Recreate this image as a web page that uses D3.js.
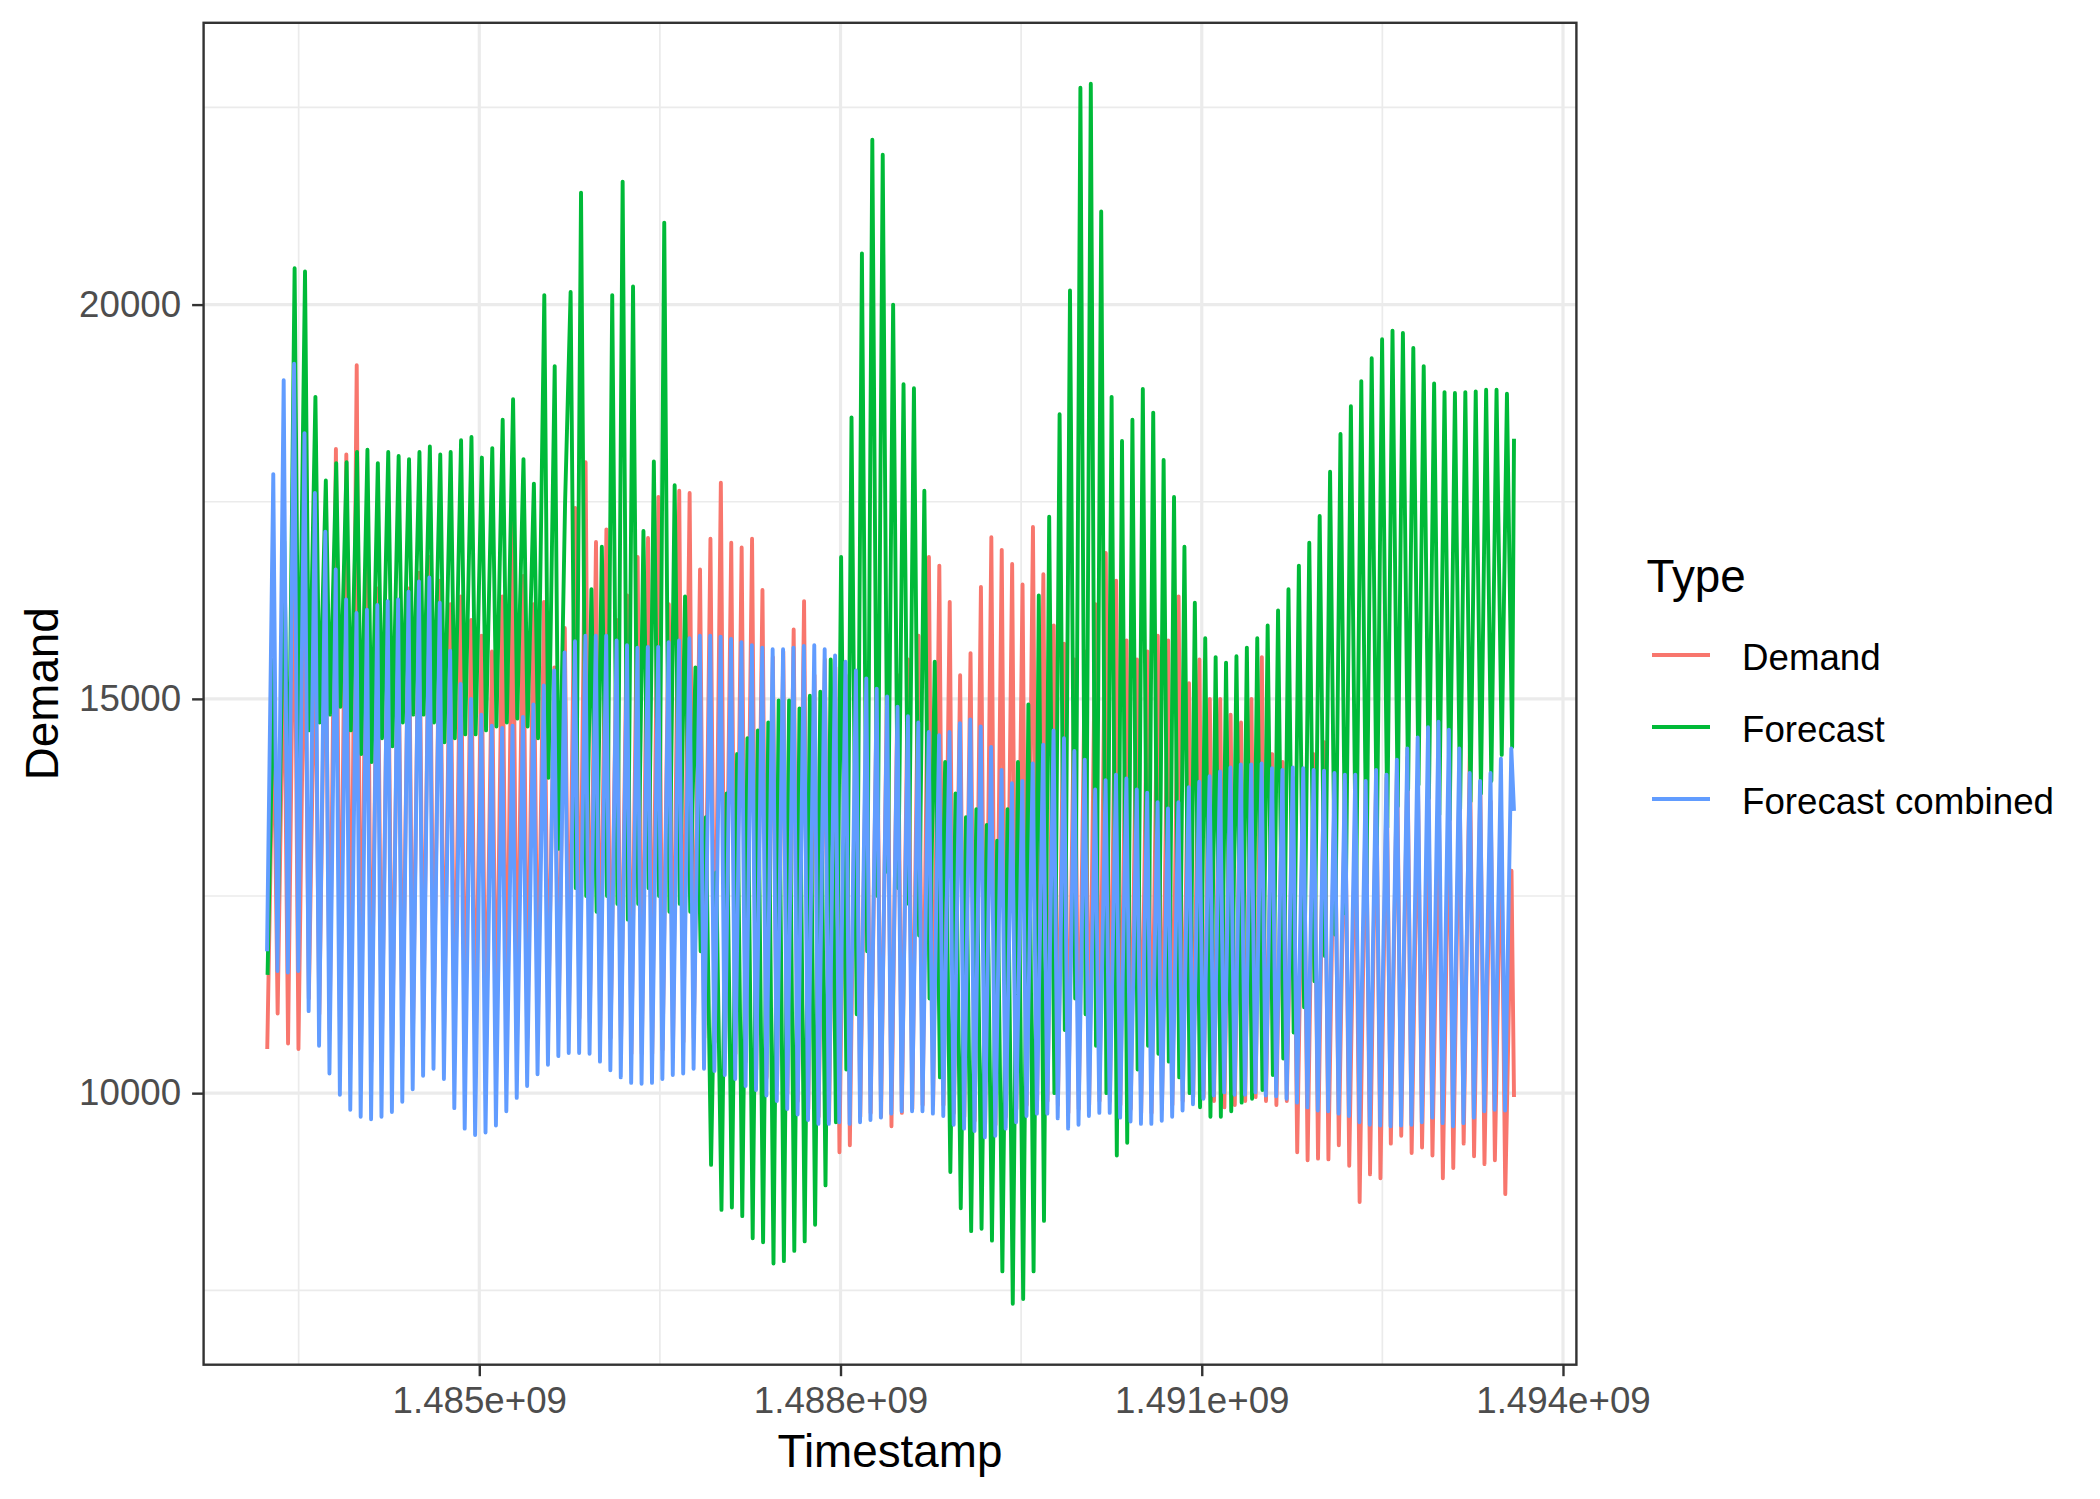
<!DOCTYPE html>
<html>
<head>
<meta charset="utf-8">
<script src="https://cdn.jsdelivr.net/npm/d3@7"></script>
<style>
  body { margin: 0; background: #fff; }
  text { font-family: "Liberation Sans", Arial, sans-serif; }
</style>
</head>
<body>
<div id="chart"></div>
<script>
// hourly series, 2017-01-01 .. 2017-04-30, read as daily low / high values
const startTime = 1483228800;
const endTime = 1493593200;
const daySeconds = 86400;

const demandLow = [
  10560, 11010, 10630, 10560, 11200, 11000, 10800, 10600, 10500, 10400,
  10400, 10450, 10500, 10600, 10700, 10800, 10900, 10800, 10500, 10300,
  10200, 10250, 10300, 10500, 10600, 10700, 10800, 10900, 10950, 11000,
  10950, 10900, 10800, 10700, 10600, 10500, 10500, 10500, 10550, 10600,
  10650, 10700, 10700, 10650, 10600, 10500, 10400, 10300, 10200, 10100,
  10000, 9900, 9800, 9700, 9650, 9250, 9340, 9700, 9750, 9700,
  9580, 9750, 9800, 9850, 9850, 9850, 9750, 9700, 9650, 9600,
  9600, 9700, 9800, 9850, 9900, 9900, 9850, 9750, 9800, 9850,
  9900, 9900, 9850, 9800, 9750, 9750, 9800, 9850, 9900, 9950,
  9950, 9900, 9820, 9850, 9900, 9950, 9900, 9850, 9900, 9250,
  9150, 9170, 9160, 9340, 9080, 8620, 8970, 8920, 9360, 9460,
  9240, 9310, 9210, 8920, 9050, 9360, 9200, 9100, 9150, 8720
];
const demandHigh = [
  15000, 16000, 17200, 16500, 16000, 16500, 18170, 18100, 19230, 17670,
  16400, 16200, 16000, 16400, 16600, 16800, 16500, 16200, 16300, 16000,
  15800, 15600, 16300, 17260, 16560, 16200, 16230, 15400, 15900, 17420,
  18000, 16990, 17150, 16000, 16310, 16800, 17040, 17560, 16200, 17640,
  17610, 16640, 17030, 17740, 16980, 16920, 17030, 16380, 15530, 15600,
  15880, 16240, 15300, 15500, 15400, 15300, 15200, 15000, 15200, 15400,
  15300, 15500, 15800, 16800, 16690, 16230, 15300, 15580, 16420, 17050,
  16890, 16710, 16450, 17180, 16580, 15930, 15700, 15500, 15600, 16200,
  16850, 16500, 15740, 15500, 15600, 15800, 15740, 16300, 15200, 15500,
  15000, 15000, 14800, 14700, 15000, 15530, 14300, 14200, 14000, 14100,
  14300, 14450, 14000, 13900, 13800, 13900, 14100, 14000, 14200, 14260,
  14000, 13900, 13800, 13900, 14100, 14420, 13900, 13700, 13470, 12820
];

const forecastLow = [
  11500, 12300, 13200, 14200, 14600, 14700, 14800, 14900, 14600, 14300,
  14200, 14500, 14400, 14700, 14800, 14800, 14700, 14450, 14500, 14550,
  14550, 14600, 14650, 14700, 14750, 14650, 14500, 14000, 13100, 12600,
  12500, 12300, 12500, 12400, 12200, 12400, 12600, 12500, 12300, 12400,
  12300, 11800, 9090, 8520, 8550, 8440, 8160, 8110, 7840, 7870,
  8000, 8120, 8330, 8830, 9630, 10300, 11000, 11800, 12500, 12800,
  12600, 12400, 12000, 11200, 10200, 9000, 8540, 8250, 8280, 8130,
  7740, 7330, 7390, 7740, 8380, 10000, 10800, 11200, 11000, 10600,
  10000, 9210, 9370, 10300, 10600, 10500, 10400, 10200, 10000, 9820,
  9700, 9700, 9770, 9880, 9930, 10040, 10230, 10440, 10770, 11090,
  11420, 11740, 12010, 12280, 12450, 12660, 13150, 13370, 13640, 13850,
  13910, 13740, 13530, 13470, 13600, 13700, 13800, 13960, 14290, 14390
];
const forecastHigh = [
  15500, 17000, 20460, 20420, 18830, 17770, 17990, 18000, 18130, 18160,
  17990, 18130, 18080, 18040, 18130, 18200, 18100, 18130, 18280, 18320,
  18060, 18180, 18540, 18800, 18040, 17730, 20120, 19220, 17500, 20160,
  21420, 16390, 16930, 20120, 21560, 20230, 17130, 18010, 21040, 17710,
  16300, 15400, 13500, 12800, 13800, 14300, 14500, 14600, 14700, 14980,
  14980, 14880, 15040, 15090, 15500, 16800, 18570, 20650, 22090, 21900,
  20000, 18990, 18940, 17640, 15470, 14200, 13800, 13500, 13600, 13400,
  13200, 13600, 14200, 14930, 16310, 17310, 18610, 20180, 22750, 22800,
  21180, 18830, 18270, 18540, 18930, 18630, 18030, 17560, 16930, 16220,
  15770, 15530, 15460, 15540, 15650, 15770, 15930, 16120, 16390, 16690,
  16980, 17320, 17880, 18360, 18710, 19030, 19320, 19560, 19670, 19640,
  19450, 19220, 19000, 18890, 18880, 18890, 18900, 18920, 18920, 18870
];

const combinedLow = [
  11800, 11550, 11530, 11550, 11040, 10600, 10250, 9980, 9790, 9700,
  9670, 9700, 9760, 9890, 10050, 10220, 10310, 10180, 9810, 9550,
  9470, 9500, 9590, 9770, 9940, 10090, 10240, 10360, 10470, 10510,
  10510, 10500, 10400, 10290, 10200, 10130, 10120, 10130, 10180, 10230,
  10250, 10310, 10310, 10280, 10230, 10180, 10090, 10040, 9970, 9900,
  9800, 9730, 9660, 9610, 9610, 9630, 9610, 9630, 9660, 9690,
  9740, 9770, 9770, 9770, 9740, 9710, 9600, 9550, 9520, 9440,
  9460, 9550, 9630, 9710, 9740, 9740, 9680, 9550, 9600, 9710,
  9750, 9750, 9690, 9640, 9610, 9610, 9650, 9700, 9780, 9860,
  9930, 9970, 10010, 9980, 9980, 10010, 9970, 9960, 9930, 9880,
  9820, 9780, 9770, 9740, 9710, 9630, 9600, 9590, 9580, 9590,
  9600, 9630, 9690, 9620, 9580, 9620, 9690, 9770, 9790, 9780
];
const combinedHigh = [
  17850, 19040, 19250, 18370, 17610, 17120, 16640, 16260, 16090, 16130,
  16190, 16240, 16260, 16360, 16490, 16540, 16220, 15610, 15190, 15000,
  14800, 14660, 14630, 14660, 14770, 14930, 15170, 15360, 15590, 15730,
  15800, 15800, 15800, 15740, 15680, 15650, 15660, 15660, 15720, 15740,
  15770, 15800, 15800, 15790, 15760, 15720, 15680, 15650, 15630, 15630,
  15650, 15670, 15680, 15630, 15550, 15470, 15360, 15260, 15130, 15030,
  14900, 14780, 14700, 14580, 14540, 14580, 14690, 14740, 14650, 14390,
  14100, 13930, 13960, 14180, 14420, 14600, 14500, 14340, 14230, 13850,
  13970, 14040, 13990, 13850, 13810, 13690, 13610, 13690, 13880, 13950,
  14020, 14080, 14130, 14170, 14170, 14180, 14120, 14100, 14130, 14120,
  14100, 14090, 14060, 14040, 14040, 13960, 14100, 14040, 14230, 14370,
  14510, 14640, 14710, 14610, 14370, 14060, 13960, 14060, 14240, 14370
];

// last hourly value of each series
const endValues = [9950, 18300, 13580];

const seriesNames = ["Demand", "Forecast", "Forecast combined"];
const seriesColors = ["#F8766D", "#00BA38", "#619CFF"];

const xTicks = [1.485e9, 1.488e9, 1.491e9, 1.494e9];
const xTickLabels = ["1.485e+09", "1.488e+09", "1.491e+09", "1.494e+09"];
const xMinorTicks = [1.4835e9, 1.4865e9, 1.4895e9, 1.4925e9];
const yTicks = [10000, 15000, 20000];
const yTickLabels = ["10000", "15000", "20000"];
const yMinorTicks = [7500, 12500, 17500, 22500];

// time of day (fraction) where the daily low / high falls
const demandPhase = d => ({ low: 0.12, high: 0.72 });
const combinedPhase = d => ({ low: 0.10, high: 0.70 });
const forecastPhase = d => d < 29 ? { low: 0.15, high: 0.75 } : { low: 0.78, high: 0.28 };

function dayPoints(lows, highs, phaseFor, endValue) {
    const pts = [];
    lows.forEach(function(v, d) {
        const p = phaseFor(d);
        pts.push({ t: startTime + (d + p.low) * daySeconds, v: v });
        pts.push({ t: startTime + (d + p.high) * daySeconds, v: highs[d] });
    });
    pts.sort((a, b) => a.t - b.t);
    pts.push({ t: endTime, v: endValue });
    return pts;
}

const series = [
    dayPoints(demandLow, demandHigh, demandPhase, endValues[0]),
    dayPoints(forecastLow, forecastHigh, forecastPhase, endValues[1]),
    dayPoints(combinedLow, combinedHigh, combinedPhase, endValues[2])
];

const width = 2100, height = 1499;
const panel = { left: 203.6, top: 22.8, right: 1576.4, bottom: 1364.7 };

const svg = d3.select('#chart').append('svg')
    .attr('width', width)
    .attr('height', height)
    .style('background', '#fff');

// ggplot style 5% expansion
const tSpan = endTime - startTime;
const x = d3.scaleLinear()
    .domain([startTime - 0.05 * tSpan, endTime + 0.05 * tSpan])
    .range([panel.left, panel.right]);

const allValues = series.flat().map(p => p.v);
const [vMin, vMax] = d3.extent(allValues);
const vSpan = vMax - vMin;
const y = d3.scaleLinear()
    .domain([vMin - 0.05 * vSpan, vMax + 0.05 * vSpan])
    .range([panel.bottom, panel.top]);

// Grid
const grid = svg.append('g').attr('class', 'grid');
grid.selectAll('line.minor-y')
    .data(yMinorTicks)
    .enter().append('line')
    .attr('x1', panel.left).attr('x2', panel.right)
    .attr('y1', d => y(d)).attr('y2', d => y(d))
    .attr('stroke', '#EBEBEB').attr('stroke-width', 1.7);
grid.selectAll('line.minor-x')
    .data(xMinorTicks)
    .enter().append('line')
    .attr('y1', panel.top).attr('y2', panel.bottom)
    .attr('x1', d => x(d)).attr('x2', d => x(d))
    .attr('stroke', '#EBEBEB').attr('stroke-width', 1.7);
grid.selectAll('line.major-y')
    .data(yTicks)
    .enter().append('line')
    .attr('x1', panel.left).attr('x2', panel.right)
    .attr('y1', d => y(d)).attr('y2', d => y(d))
    .attr('stroke', '#EBEBEB').attr('stroke-width', 3.2);
grid.selectAll('line.major-x')
    .data(xTicks)
    .enter().append('line')
    .attr('y1', panel.top).attr('y2', panel.bottom)
    .attr('x1', d => x(d)).attr('x2', d => x(d))
    .attr('stroke', '#EBEBEB').attr('stroke-width', 3.2);

// Lines
const line = d3.line()
    .x(d => x(d.t))
    .y(d => y(d.v));

svg.append('g')
    .attr('class', 'lines')
    .selectAll('path')
    .data(series)
    .enter().append('path')
    .attr('d', line)
    .attr('fill', 'none')
    .attr('stroke', (d, i) => seriesColors[i])
    .attr('stroke-width', 3.9)
    .attr('stroke-linejoin', 'round');

// Panel border
svg.append('rect')
    .attr('x', panel.left).attr('y', panel.top)
    .attr('width', panel.right - panel.left)
    .attr('height', panel.bottom - panel.top)
    .attr('fill', 'none')
    .attr('stroke', '#333333')
    .attr('stroke-width', 2.4);

// Axes
const xAxis = svg.append('g')
    .attr('transform', `translate(0,${panel.bottom})`)
    .call(d3.axisBottom(x)
        .tickValues(xTicks)
        .tickFormat((d, i) => xTickLabels[i])
        .tickSize(11.5)
        .tickPadding(10.5));
const yAxis = svg.append('g')
    .attr('transform', `translate(${panel.left},0)`)
    .call(d3.axisLeft(y)
        .tickValues(yTicks)
        .tickFormat((d, i) => yTickLabels[i])
        .tickSize(11.5)
        .tickPadding(11));

[xAxis, yAxis].forEach(function(ax) {
    ax.select('.domain').remove();
    ax.selectAll('.tick line').attr('stroke', '#333333').attr('stroke-width', 2.4);
    ax.selectAll('.tick text')
        .attr('fill', '#4D4D4D')
        .style('font-size', '36.7px')
        .style('font-family', '"Liberation Sans", Arial, sans-serif');
});

// Axis titles
svg.append('text')
    .attr('x', (panel.left + panel.right) / 2)
    .attr('y', 1467)
    .attr('text-anchor', 'middle')
    .style('font-size', '45.8px')
    .text('Timestamp');

svg.append('text')
    .attr('transform', `translate(58,${(panel.top + panel.bottom) / 2}) rotate(-90)`)
    .attr('text-anchor', 'middle')
    .style('font-size', '45.8px')
    .text('Demand');

// Legend
const legend = svg.append('g').attr('class', 'legend');
legend.append('text')
    .attr('x', 1646.5)
    .attr('y', 591.7)
    .style('font-size', '45.8px')
    .text('Type');

const keyY = d3.scalePoint().domain(seriesNames).range([655, 799]);

legend.selectAll('line')
    .data(seriesNames)
    .enter().append('line')
    .attr('x1', 1652).attr('x2', 1710)
    .attr('y1', d => keyY(d)).attr('y2', d => keyY(d))
    .attr('stroke', (d, i) => seriesColors[i])
    .attr('stroke-width', 4);

legend.selectAll('text.label')
    .data(seriesNames)
    .enter().append('text')
    .attr('class', 'label')
    .attr('x', 1742)
    .attr('y', d => keyY(d) + 14.5)
    .style('font-size', '36.7px')
    .text(d => d);
</script>
</body>
</html>
